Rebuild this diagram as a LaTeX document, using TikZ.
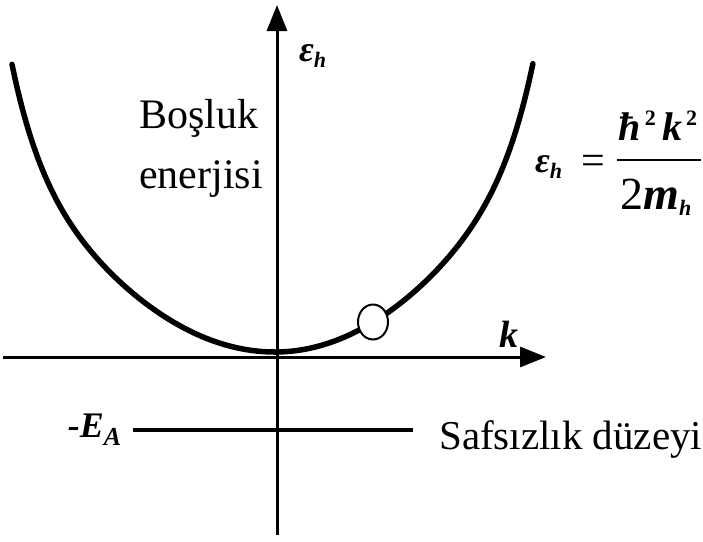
\documentclass[tikz,border=0pt]{standalone}
\usepackage{fontspec}
\setmainfont{Liberation Serif}
\usetikzlibrary{arrows.meta,shapes.geometric}
\begin{document}
\begin{tikzpicture}[x=1pt,y=-1pt,
  txt/.style={inner sep=0pt,font=\fontsize{42}{50}\selectfont},
  sym/.style={inner sep=0pt,font=\fontsize{38}{44}\selectfont\bfseries\itshape},
  axis/.style={line width=3pt,-{Triangle[length=26pt,width=20pt]}},
  band/.style={line width=5.5pt,line cap=round,line join=round}]
\useasboundingbox (0,0) rectangle (703,541);
\fill[white] (0,0) rectangle (703,541);
\coordinate (ybot) at (277,535);
\coordinate (ytop) at (277,5);
\coordinate (xl) at (3,357);
\coordinate (xr) at (546,357);
\draw[axis] (ybot) -- (ytop);
\draw[axis] (xl) -- (xr);
\draw[band] plot[domain=-1:0,samples=90,smooth] ({275+263*\x},{352-(200.6*\x*\x+87*(\x*\x)^5)});
\draw[band] plot[domain=0:1,samples=90,smooth] ({275+258*\x},{352-(206.3*\x*\x+82.6*(\x*\x)^5)});
\node[draw,line width=2pt,fill=white,ellipse,minimum width=30pt,minimum height=35pt,inner sep=0pt] (hole) at (373,322) {};
\coordinate (lvl1) at (133,430);
\coordinate (lvl2) at (413,430);
\draw[line width=4pt] (lvl1) -- (lvl2);
\node[txt,anchor=base west] (b1) at (139,128) {Boşluk};
\node[txt,anchor=base west] (b2) at (139,188) {enerjisi};
\node[txt,anchor=base west,font=\fontsize{41}{48}\selectfont] (saf) at (439,449) {Safsızlık düzeyi};
\node[sym,anchor=base east,font=\fontsize{36}{42}\selectfont\bfseries\itshape] (ea) at (122,437) {-E\textsubscript{\fontsize{26}{30}\selectfont A}};
\node[sym,anchor=base] (kl) at (509,347) {k};
\node[sym,anchor=base west,font=\fontsize{36}{42}\selectfont\bfseries\itshape] (eh) at (299,61) {ε\textsubscript{\fontsize{22}{26}\selectfont h}};
\node[sym,anchor=base west,font=\fontsize{36}{42}\selectfont\bfseries\itshape] (eq1) at (535,172) {ε\textsubscript{\fontsize{22}{26}\selectfont h}};
\node[txt,anchor=base] (eq) at (593,174) {=};
\node[sym,anchor=base,font=\fontsize{40}{46}\selectfont\bfseries\itshape] (num) at (658,140) {ħ\raisebox{15pt}{\fontsize{22}{26}\selectfont\upshape\,2}\,k\raisebox{15pt}{\fontsize{22}{26}\selectfont\upshape\,2}};
\draw[line width=2.5pt] (617,160) -- (701,160);
\node[txt,anchor=base,font=\fontsize{46}{52}\selectfont] (den) at (656,209) {2\textbf{\textit{m}}\textsubscript{\fontsize{22}{26}\selectfont\bfseries\itshape h}};
\end{tikzpicture}
\end{document}
